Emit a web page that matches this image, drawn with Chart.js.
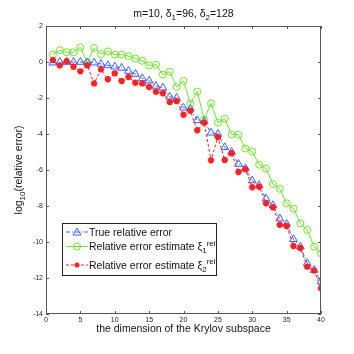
<!DOCTYPE html>
<html>
<head>
<meta charset="utf-8">
<script src="https://cdn.jsdelivr.net/npm/chart.js@4.4.1/dist/chart.umd.min.js"></script>
<style>
  html, body { margin: 0; padding: 0; background: #fff; }
  #wrap { width: 354px; height: 354px; }
</style>
</head>
<body>
<div id="wrap"><canvas id="errChart" width="354" height="354"></canvas></div>
<script>
// krylov dimension
const dims = [1,2,3,4,5,6,7,8,9,10,11,12,13,14,15,16,17,18,19,20,
              21,22,23,24,25,26,27,28,29,30,31,32,33,34,35,36,37,38,39,40];

// log10 of the true relative error
const trueErr = [-0.04,0.0,0.0,0.0,0.0,-0.02,-0.04,-0.11,-0.19,-0.26,
                 -0.33,-0.5,-0.67,-0.91,-1.04,-1.33,-1.43,-1.93,-2.0,-2.54,
                 -2.59,-3.24,-3.30,-3.93,-4.0,-4.74,-5.0,-5.67,-5.91,-6.59,
                 -6.85,-7.59,-7.96,-8.70,-9.0,-9.85,-10.26,-11.18,-11.56,-12.2];

// estimate xi_1^rel
const est1 = [0.41,0.65,0.54,0.54,0.81,-0.04,0.78,0.44,0.59,0.41,
              0.41,0.33,0.19,0.07,-0.19,-0.15,-0.70,-0.54,-1.39,-1.05,
              -2.32,-1.64,-3.19,-2.30,-3.37,-3.15,-4.02,-4.04,-4.81,-4.98,
              -5.71,-5.92,-6.78,-7.04,-7.85,-8.15,-8.96,-9.33,-10.26,-10.63];

// estimate xi_2^rel
const est2 = [0.11,-0.19,0.04,-0.26,-0.52,-0.19,-1.19,-0.41,-0.96,-0.63,
              -1.06,-0.83,-1.15,-1.19,-1.39,-1.65,-1.74,-2.22,-2.17,-2.93,
              -2.71,-3.79,-3.37,-5.46,-4.17,-5.44,-5.07,-6.11,-5.96,-6.96,
              -6.93,-7.85,-8.07,-9.04,-9.11,-10.22,-10.33,-11.37,-11.59,-12.57];

const xTicks = [0,5,10,15,20,25,30,35,40];
const yTicks = [-14,-12,-10,-8,-6,-4,-2,0,2];

const BLUE = '#3f5cff', GREEN = '#6ee62a', RED = '#ff2020';
const FONT = 'Liberation Sans, Arial, sans-serif';

const pts = arr => arr.map((v, i) => ({ x: dims[i], y: v }));

// text with optional sub / sup pieces: [[text, 'n'|'sub'|'sup'], ...]
function richText(ctx, parts, x, y, size, align) {
  const small = Math.round(size * 0.72);
  const widths = parts.map(p => {
    ctx.font = (p[1] === 'n' ? size : small) + 'px ' + FONT;
    return ctx.measureText(p[0]).width;
  });
  let total = widths.reduce((a, b) => a + b, 0);
  let cx = align === 'center' ? x - total / 2 : x;
  parts.forEach((p, i) => {
    ctx.font = (p[1] === 'n' ? size : small) + 'px ' + FONT;
    let dy = 0;
    if (p[1] === 'sub') dy = size * 0.3;
    if (p[1] === 'sup') dy = -size * 0.42;
    ctx.fillText(p[0], cx, y + dy);
    cx += widths[i];
  });
}

const decorPlugin = {
  id: 'decor',
  afterDraw(chart) {
    const { ctx, chartArea: a, scales } = chart;
    const xs = scales.x, ys = scales.y;
    ctx.save();
    // box
    ctx.strokeStyle = '#555';
    ctx.lineWidth = 1;
    ctx.strokeRect(a.left + 0.5, a.top + 0.5, a.right - a.left - 1, a.bottom - a.top - 1);
    // inward ticks on all sides
    ctx.beginPath();
    xTicks.forEach(v => {
      const px = Math.round(xs.getPixelForValue(v)) + 0.5;
      ctx.moveTo(px, a.bottom); ctx.lineTo(px, a.bottom - 3);
      ctx.moveTo(px, a.top); ctx.lineTo(px, a.top + 3);
    });
    yTicks.forEach(v => {
      const py = Math.round(ys.getPixelForValue(v)) + 0.5;
      ctx.moveTo(a.left, py); ctx.lineTo(a.left + 3, py);
      ctx.moveTo(a.right, py); ctx.lineTo(a.right - 3, py);
    });
    ctx.stroke();

    // titles
    ctx.fillStyle = '#111';
    ctx.textBaseline = 'alphabetic';
    const midX = (a.left + a.right) / 2;
    richText(ctx, [['m=10, δ', 'n'], ['1', 'sub'], ['=96, δ', 'n'], ['2', 'sub'], ['=128', 'n']],
             midX, 17, 10.5, 'center');
    richText(ctx, [['the dimension of the Krylov subspace', 'n']], midX, 332, 10.5, 'center');
    ctx.save();
    ctx.translate(22, (a.top + a.bottom) / 2);
    ctx.rotate(-Math.PI / 2);
    richText(ctx, [['log', 'n'], ['10', 'sub'], ['(relative error)', 'n']], 0, 0, 10.5, 'center');
    ctx.restore();

    // legend box
    const lx = 62.5, ly = 223.5, lw = 154, lh = 52;
    ctx.fillStyle = '#fff';
    ctx.fillRect(lx, ly, lw, lh);
    ctx.strokeStyle = '#222';
    ctx.lineWidth = 1;
    ctx.strokeRect(lx, ly, lw, lh);
    const rows = [
      { y: 232, color: BLUE, dash: [4, 2, 1, 2], marker: 'tri',
        text: [['True relative error', 'n']] },
      { y: 246.5, color: GREEN, dash: [], marker: 'circ',
        text: [['Relative error estimate ξ', 'n'], ['1', 'sub'], ['rel', 'sup']] },
      { y: 265, color: RED, dash: [3, 2], marker: 'star',
        text: [['Relative error estimate ξ', 'n'], ['2', 'sub'], ['rel', 'sup']] }
    ];
    rows.forEach(r => {
      ctx.strokeStyle = r.color;
      ctx.lineWidth = 1;
      ctx.setLineDash(r.dash);
      ctx.beginPath();
      ctx.moveTo(66, r.y); ctx.lineTo(88, r.y);
      ctx.stroke();
      ctx.setLineDash([]);
      ctx.beginPath();
      if (r.marker === 'tri') {
        ctx.moveTo(77, r.y - 4); ctx.lineTo(81, r.y + 3); ctx.lineTo(73, r.y + 3); ctx.closePath();
        ctx.stroke();
      } else if (r.marker === 'circ') {
        ctx.arc(77, r.y, 3.5, 0, Math.PI * 2);
        ctx.stroke();
      } else {
        ctx.fillStyle = r.color;
        ctx.arc(77, r.y, 2.5, 0, Math.PI * 2);
        ctx.fill();
      }
      ctx.fillStyle = '#111';
      richText(ctx, r.text, 89, r.y + 3.5, 10.5, 'left');
    });
    ctx.restore();
  }
};

new Chart(document.getElementById('errChart').getContext('2d'), {
  type: 'line',
  data: {
    datasets: [
      {
        label: 'True relative error',
        data: pts(trueErr),
        borderColor: BLUE,
        borderWidth: 1,
        borderDash: [4, 2, 1, 2],
        pointStyle: 'triangle',
        pointRadius: 4.5,
        pointBorderColor: BLUE,
        pointBackgroundColor: 'rgba(0,0,0,0)',
        pointBorderWidth: 1,
        tension: 0,
        order: 1
      },
      {
        label: 'Relative error estimate xi1',
        data: pts(est1),
        borderColor: GREEN,
        borderWidth: 1,
        pointStyle: 'circle',
        pointRadius: 3.5,
        pointBorderColor: GREEN,
        pointBackgroundColor: 'rgba(0,0,0,0)',
        pointBorderWidth: 1,
        tension: 0,
        order: 2
      },
      {
        label: 'Relative error estimate xi2',
        data: pts(est2),
        borderColor: RED,
        borderWidth: 1,
        borderDash: [3, 2],
        pointStyle: 'star',
        pointRadius: 3.2,
        pointBorderColor: RED,
        pointBackgroundColor: RED,
        pointBorderWidth: 2,
        tension: 0,
        order: 0
      }
    ]
  },
  options: {
    responsive: false,
    animation: false,
    events: [],
    layout: { padding: { left: 0, top: 26, right: 33, bottom: 0 } },
    plugins: { legend: { display: false }, tooltip: { enabled: false } },
    scales: {
      x: {
        type: 'linear', min: 0, max: 40,
        afterBuildTicks: s => { s.ticks = xTicks.map(v => ({ value: v })); },
        afterFit: s => { s.height = 40; },
        grid: { display: false, drawTicks: false },
        border: { display: false },
        ticks: { font: { size: 7, family: FONT }, color: '#222', padding: 2, maxRotation: 0 }
      },
      y: {
        type: 'linear', min: -14, max: 2,
        afterBuildTicks: s => { s.ticks = yTicks.map(v => ({ value: v })); },
        afterFit: s => { s.width = 46; },
        grid: { display: false, drawTicks: false },
        border: { display: false },
        ticks: { font: { size: 7, family: FONT }, color: '#222', padding: 3 }
      }
    }
  },
  plugins: [decorPlugin]
});
</script>
</body>
</html>
